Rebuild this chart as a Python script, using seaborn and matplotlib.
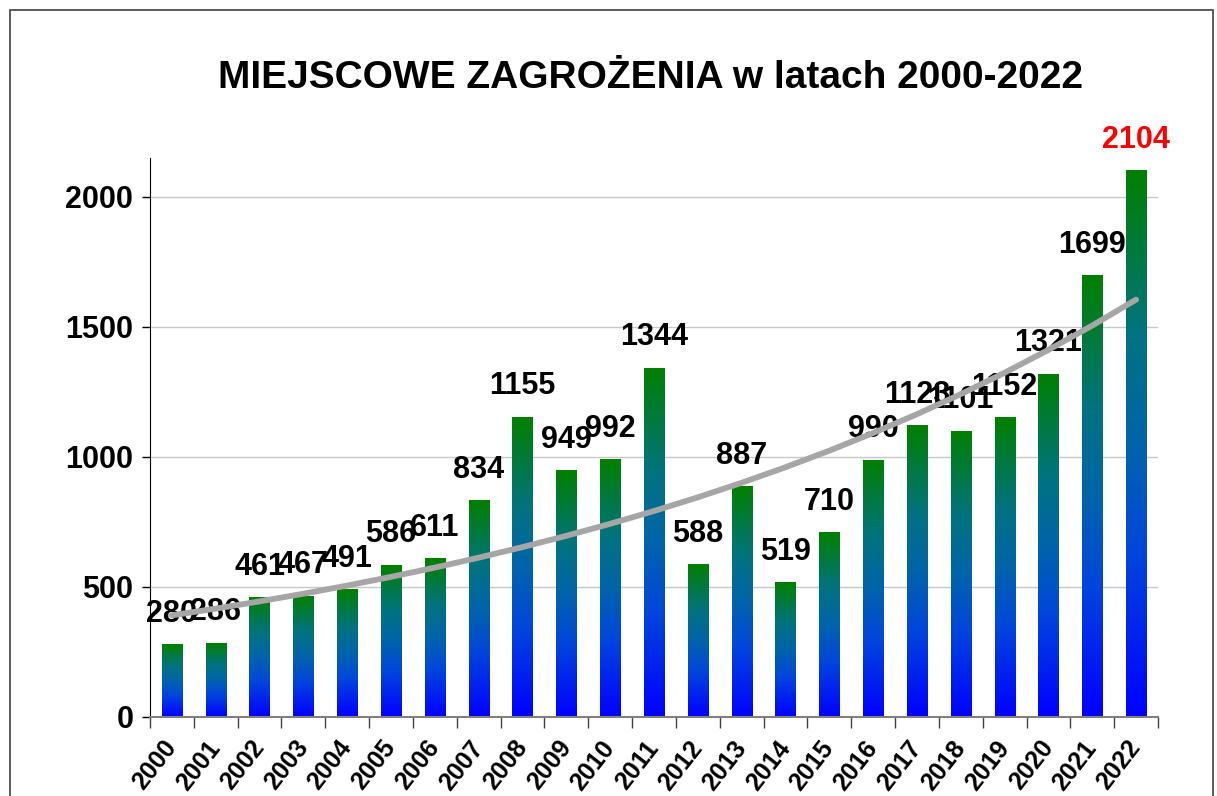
import numpy as np
import pandas as pd
import matplotlib
matplotlib.use("Agg")
import matplotlib.pyplot as plt
import seaborn as sb
from matplotlib.colors import LinearSegmentedColormap
from matplotlib.patches import Rectangle

years = [str(y) for y in range(2000, 2023)]
counts = [280, 286, 461, 467, 491, 586, 611, 834, 1155, 949, 992, 1344,
          588, 887, 519, 710, 990, 1123, 1101, 1152, 1321, 1699, 2104]

sb.set_style("white")
plt.rcParams["font.family"] = ["Liberation Sans", "DejaVu Sans"]
plt.rcParams["font.weight"] = "bold"
plt.rcParams["text.color"] = "black"
plt.rcParams["xtick.color"] = "black"
plt.rcParams["ytick.color"] = "black"

df = pd.DataFrame({"rok": years, "liczba": counts})

fig = plt.figure(figsize=(12.17, 7.96), dpi=100)
ax = fig.add_axes([150 / 1217, 1 - 717 / 796, (1158 - 150) / 1217, (717 - 158) / 796])

sb.barplot(data=df, x="rok", y="liczba", ax=ax, width=0.46, color="white")

# gradient fill: green at the top, blue at the bottom of each bar
cmap = LinearSegmentedColormap.from_list(
    "gb", [(0.0, "#0000FF"), (0.3, "#0046DC"), (0.5, "#0064AA"),
           (0.7, "#00737F"), (1.0, "#008000")])
grad = np.linspace(0, 1, 256).reshape(-1, 1)
for p in ax.patches:
    x0, w, h = p.get_x(), p.get_width(), p.get_height()
    p.set_facecolor("none")
    p.set_edgecolor("none")
    im = ax.imshow(grad, cmap=cmap, origin="lower", aspect="auto",
                   extent=[x0, x0 + w, 0, h], zorder=2)
    im.set_clip_path(p)

ax.set_xlim(-0.5, len(years) - 0.5)
ax.set_ylim(0, 2150)

# exponential trend line
xi = np.arange(len(counts))
k, b = np.polyfit(xi, np.log(counts), 1)
ax.plot(xi, np.exp(b + k * xi), color="#A6A6A6", lw=4.2, zorder=5,
        solid_capstyle="round")

# data labels
for i, v in enumerate(counts):
    ax.annotate(str(v), (i, v), xytext=(0, 11), textcoords="offset points",
                ha="center", va="bottom", fontsize=22, fontweight="bold",
                color="red" if i == len(counts) - 1 else "black", zorder=4)

ax.set_yticks([0, 500, 1000, 1500, 2000])
ax.yaxis.grid(True, color="#C8C8C8", lw=1)
ax.set_axisbelow(True)
ax.tick_params(axis="y", labelsize=22, length=6, width=1, color="black",
               direction="out", left=True, pad=6)
ax.set_xticks(xi)
ax.set_xticklabels(years, rotation=52, ha="right", va="center",
                   rotation_mode="anchor", fontsize=18, fontweight="bold")
ax.set_xticks(np.arange(-0.5, len(years)), minor=True)
ax.tick_params(axis="x", which="major", length=0, pad=19)
ax.tick_params(axis="x", which="minor", length=8, width=1, color="#404040",
               direction="out", bottom=True)
for t in ax.get_yticklabels():
    t.set_fontweight("bold")

ax.set_xlabel("")
ax.set_ylabel("")
sb.despine(ax=ax)
ax.spines["left"].set_color("black")
ax.spines["bottom"].set_color("#808080")
ax.spines["bottom"].set_linewidth(1.5)

fig.text(651 / 1217, 1 - 78 / 796, "MIEJSCOWE ZAGROŻENIA w latach 2000-2022",
         ha="center", va="center", fontsize=28, fontweight="bold")

fig.patches.append(Rectangle((10 / 1217, -0.1), (1213 - 10) / 1217, 1.1 - 10 / 796,
                             transform=fig.transFigure, fill=False,
                             edgecolor="#404040", lw=1.2))

fig.savefig("out.png", dpi=100)
